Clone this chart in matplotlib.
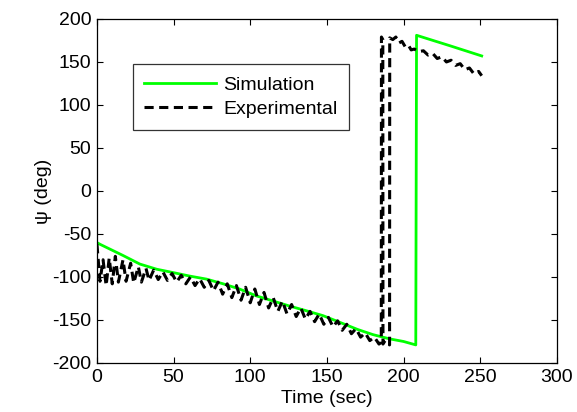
import matplotlib
matplotlib.use("Agg")
import matplotlib.pyplot as plt

plt.rcParams['font.family'] = ['Liberation Sans', 'DejaVu Sans']
plt.rcParams['axes.unicode_minus'] = False

sim_t = [0, 2, 17, 28, 39, 50, 60.6, 71.5, 82.4, 93, 104, 115, 126, 137, 147.5, 156,
         170, 180, 191, 200, 208, 208.5, 230, 251]
sim_v = [-60, -62, -75, -85, -91, -95, -99, -102.5, -108, -114, -122, -128, -134, -139.5, -145, -151,
         -161, -167, -172, -175, -179, 181, 169, 157]

exp_t = [0, 2, 4, 6, 8, 10, 12, 14, 17, 19, 22, 24, 27, 29, 32, 34, 37, 40, 43, 46, 49, 52, 55, 58,
         61, 64, 67, 70, 73, 76, 79, 82, 85, 88, 91, 94, 97, 100, 103, 106, 109, 112, 115, 118, 121,
         124, 127, 130, 133, 136, 139, 142, 145, 148, 151, 154, 157, 160, 163, 166, 169, 172, 175, 178,
         181, 184, 185.5, 185.6, 186.5, 186.6, 188, 190, 190.9, 191.0,
         193, 195, 197, 199, 201, 203, 205, 207, 210, 213, 216, 219, 222, 225, 228, 231, 234, 237, 240,
         243, 246, 249, 251]
exp_v = [-62, -105, -80, -110, -78, -108, -76, -106, -80, -105, -84, -107, -88, -106, -90, -104, -92,
         -103, -94, -104, -96, -106, -98, -108, -100, -110, -102, -112, -104, -116, -106, -120, -108,
         -124, -110, -127, -112, -130, -114, -132, -118, -136, -124, -140, -128, -143, -132, -146, -136,
         -149, -140, -152, -143, -155, -147, -158, -151, -162, -155, -166, -160, -170, -165, -174, -170,
         -178, -176, 179, 176, -178, -174, -178, -179, 178,
         176, 179, 172, 174, 168, 170, 164, 165, 162, 163, 158, 160, 154, 156, 150, 152, 146, 148, 141,
         143, 136, 139, 134]

xticks = [0, 50, 100, 150, 200, 250, 300]
yticks = [-200, -150, -100, -50, 0, 50, 100, 150, 200]

fig = plt.figure(figsize=(5.77, 4.12), dpi=100)
ax = fig.add_axes([0.168, 0.119, 0.797, 0.835])

ax.plot(sim_t, sim_v, color='#00ff00', lw=2, label='Simulation', zorder=2)
ax.plot(exp_t, exp_v, color='black', lw=2.2, ls=(0, (3, 1.8)), label='Experimental', zorder=3)

ax.set_xlim(0, 300)
ax.set_ylim(-200, 200)
ax.set_xticks(xticks)
ax.set_yticks(yticks)
ax.tick_params(direction='in', top=True, right=True, labelsize=14, length=4, width=0.8, pad=4)
for s in ax.spines.values():
    s.set_linewidth(0.9)
ax.set_xlabel('Time (sec)', fontsize=14, labelpad=3)
ax.set_ylabel('ψ (deg)', fontsize=14, labelpad=0)

leg = ax.legend(loc='upper left', bbox_to_anchor=(0.078, 0.868), fontsize=14,
                frameon=True, fancybox=False, edgecolor='black', handlelength=3.7,
                borderpad=0.6, labelspacing=0.35, handletextpad=0.35, borderaxespad=0)
leg.get_frame().set_linewidth(0.9)

fig.savefig('out.png', dpi=100)
